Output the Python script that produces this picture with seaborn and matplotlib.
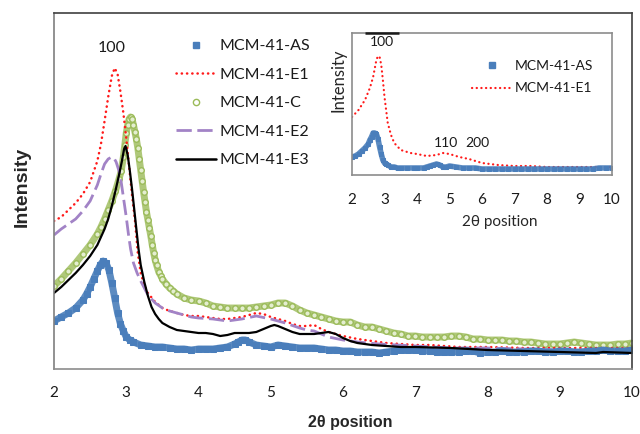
import matplotlib
matplotlib.use("Agg")
import matplotlib.pyplot as plt
from matplotlib.lines import Line2D
import pandas as pd
import seaborn as sns

# ---------------- main panel: XRD patterns ----------------
as_x = [2.0, 2.1, 2.2, 2.3, 2.4, 2.45, 2.5, 2.55, 2.6, 2.64, 2.68, 2.72, 2.76, 2.8,
        2.84, 2.88, 2.92, 2.96, 3.0, 3.05, 3.1, 3.2, 3.3, 3.4, 3.5, 3.6, 3.7, 3.8,
        3.9, 4.0, 4.1, 4.2, 4.3, 4.4, 4.5, 4.55, 4.6, 4.65, 4.7, 4.8, 4.9, 5.0, 5.1,
        5.2, 5.3, 5.4, 5.5, 5.6, 5.7, 5.8, 5.9, 6.0, 6.1, 6.2, 6.3, 6.4, 6.5, 6.6,
        6.7, 6.8, 6.9, 7.0, 7.1, 7.2, 7.3, 7.4, 7.5, 7.6, 7.7, 7.8, 7.9, 8.0, 8.1,
        8.2, 8.3, 8.4, 8.5, 8.6, 8.7, 8.8, 8.9, 9.0, 9.1, 9.2, 9.3, 9.4, 9.5, 9.6,
        9.7, 9.8, 9.9, 10.0]
as_y = [48, 52, 56, 61, 69, 75, 82, 90, 98, 104, 108, 106, 99, 86,
        71, 56, 45, 38, 32, 29, 27, 24, 23, 22, 22, 21, 20, 20,
        19, 20, 20, 20, 21, 22, 25, 27, 29, 29, 27, 24, 23, 22, 24,
        23, 22, 21, 21, 21, 20, 19, 19, 18, 18, 17, 17, 17, 16, 17,
        18, 19, 19, 19, 18, 18, 17, 17, 17, 17, 18, 18, 16, 17, 17,
        18, 17, 17, 17, 18, 18, 17, 17, 18, 18, 17, 17, 18, 18, 19,
        18, 18, 18, 19]

e1_x = [2.0, 2.1, 2.2, 2.3, 2.4, 2.5, 2.6, 2.65, 2.7, 2.75, 2.8, 2.84, 2.88, 2.92,
        2.96, 3.0, 3.04, 3.08, 3.12, 3.16, 3.2, 3.25, 3.3, 3.4, 3.5, 3.6, 3.7, 3.8,
        3.9, 4.0, 4.1, 4.2, 4.3, 4.4, 4.5, 4.6, 4.7, 4.8, 4.9, 5.0, 5.1, 5.2, 5.3,
        5.4, 5.5, 5.6, 5.7, 5.8, 5.9, 6.0, 6.2, 6.4, 6.6, 6.8, 7.0, 7.2, 7.4, 7.6,
        8.0, 8.5, 9.0, 9.5, 10.0]
e1_y = [148, 152, 159, 166, 175, 187, 208, 225, 248, 272, 293, 301, 295, 277,
        256, 231, 202, 174, 149, 116, 96, 84, 76, 67, 61, 58, 56, 54,
        53, 53, 52, 51, 50, 50, 51, 52, 54, 56, 55, 52, 50, 48, 45,
        43, 43, 44, 40, 37, 35, 33, 30, 28, 26, 25, 24, 24, 23, 22,
        22, 21, 21, 21, 21]

c_x = [2.0, 2.1, 2.2, 2.3, 2.4, 2.5, 2.6, 2.65, 2.7, 2.75, 2.8, 2.85, 2.9, 2.93,
       2.96, 2.98, 3.0, 3.02, 3.04, 3.06, 3.08, 3.1, 3.12, 3.14, 3.16, 3.18, 3.2,
       3.22, 3.24, 3.26, 3.28, 3.3, 3.32, 3.34, 3.36, 3.38, 3.4, 3.42, 3.45, 3.48,
       3.5, 3.55, 3.6, 3.65, 3.7, 3.8, 3.9, 4.0, 4.1, 4.2, 4.3, 4.4, 4.5, 4.6, 4.7,
       4.8, 4.9, 5.0, 5.1, 5.2, 5.3, 5.4, 5.5, 5.6, 5.7, 5.8, 5.9, 6.0, 6.1, 6.2,
       6.3, 6.4, 6.5, 6.6, 6.7, 6.8, 6.9, 7.0, 7.1, 7.2, 7.3, 7.4, 7.5, 7.6, 7.7,
       7.8, 7.9, 8.0, 8.1, 8.2, 8.3, 8.4, 8.5, 8.6, 8.7, 8.8, 8.9, 9.0, 9.1, 9.2,
       9.3, 9.4, 9.5, 9.6, 9.7, 9.8, 9.9, 10.0]
c_y = [83, 90, 98, 106, 115, 124, 135, 142, 150, 159, 168, 178, 190, 198,
       212, 224, 236, 244, 250, 252, 250, 244, 237, 230, 221, 210, 199,
       188, 177, 167, 157, 149, 141, 133, 124, 116, 109, 104, 97, 93,
       90, 85, 81, 78, 75, 71, 69, 68, 66, 63, 62, 61, 61, 61, 61,
       62, 63, 64, 66, 66, 63, 59, 56, 54, 52, 50, 48, 47, 47, 44,
       42, 42, 40, 38, 36, 35, 33, 33, 32, 32, 32, 32, 33, 33, 32,
       30, 30, 29, 29, 29, 28, 28, 27, 27, 26, 25, 25, 25, 26, 27,
       26, 25, 24, 24, 24, 25, 25, 26]

e2_x = [2.0, 2.1, 2.2, 2.3, 2.4, 2.5, 2.6, 2.65, 2.7, 2.75, 2.8, 2.83, 2.86, 2.9,
        2.93, 2.96, 3.0, 3.03, 3.06, 3.1, 3.15, 3.2, 3.3, 3.4, 3.5, 3.6, 3.7, 3.8,
        3.9, 4.0, 4.2, 4.4, 4.6, 4.8, 5.0, 5.2, 5.4, 5.5, 5.6, 5.7, 5.8, 6.0, 6.2,
        6.5, 7.0, 7.5, 8.0, 8.5, 9.0, 9.5, 10.0]
e2_y = [134, 140, 145, 150, 158, 168, 184, 195, 205, 210, 212, 211, 207, 198,
        187, 172, 152, 135, 120, 106, 96, 88, 74, 66, 61, 58, 56, 54,
        52, 51, 50, 48, 50, 53, 50, 46, 41, 39, 38, 35, 32, 29, 27,
        25, 23, 21, 21, 20, 19, 19, 18]

e3_x = [2.0, 2.1, 2.2, 2.3, 2.4, 2.5, 2.6, 2.7, 2.75, 2.8, 2.85, 2.9, 2.94, 2.97,
        2.99, 3.02, 3.05, 3.08, 3.11, 3.14, 3.17, 3.2, 3.25, 3.3, 3.35, 3.4, 3.45,
        3.5, 3.6, 3.7, 3.8, 3.9, 4.0, 4.1, 4.2, 4.3, 4.4, 4.5, 4.6, 4.7, 4.8, 4.9,
        5.0, 5.05, 5.1, 5.2, 5.3, 5.4, 5.5, 5.6, 5.7, 5.8, 5.9, 6.0, 6.1, 6.2, 6.4,
        6.6, 6.8, 7.0, 7.5, 8.0, 8.5, 9.0, 9.5, 9.6, 10.0]
e3_y = [76, 82, 89, 96, 104, 113, 124, 140, 150, 163, 178, 194, 208, 220,
        223, 214, 198, 180, 160, 140, 120, 104, 87, 73, 62, 55, 50,
        46, 42, 39, 38, 37, 36, 36, 35, 33, 34, 36, 36, 36, 37, 40,
        43, 44, 43, 40, 37, 35, 35, 35, 36, 37, 35, 31, 28, 26, 24,
        23, 22, 22, 21, 19, 18, 17, 16, 17, 16]

# ---------------- inset: AS vs E1 ----------------
in_as_x = [2.0, 2.1, 2.2, 2.3, 2.4, 2.5, 2.55, 2.6, 2.65, 2.7, 2.75, 2.8, 2.85, 2.9,
           2.95, 3.0, 3.05, 3.1, 3.2, 3.3, 3.4, 3.5, 3.7, 3.9, 4.0, 4.2, 4.3, 4.4,
           4.5, 4.6, 4.7, 4.8, 4.9, 5.0, 5.2, 5.4, 5.6, 5.8, 6.0, 6.2, 6.4, 6.6,
           6.8, 7.0, 7.2, 7.4, 7.6, 7.8, 8.0, 8.2, 8.4, 8.6, 8.8, 9.0, 9.2, 9.4,
           9.6, 9.8, 10.0]
in_as_y = [18, 19, 21, 24, 27, 31, 35, 38, 42, 42, 41, 36, 28, 21,
           15, 12, 11, 10, 8, 8, 7, 7, 7, 7, 7, 7, 8, 9,
           10, 11, 10, 8, 8, 9, 8, 7, 7, 7, 6, 6, 6, 6,
           6, 6, 6, 6, 6, 6, 6, 6, 6, 6, 6, 6, 6, 6,
           7, 7, 7]

in_e1_x = [2.0, 2.2, 2.4, 2.55, 2.65, 2.75, 2.8, 2.85, 2.9, 2.95, 3.0, 3.05, 3.1,
           3.2, 3.3, 3.5, 3.8, 4.0, 4.3, 4.6, 4.8, 5.0, 5.3, 5.6, 6.0, 6.5, 7.0,
           7.5, 8.0, 9.0, 10.0]
in_e1_y = [58, 65, 75, 87, 98, 115, 119, 118, 110, 95, 78, 65, 52,
           40, 32, 25, 22, 21, 19, 20, 22, 21, 18, 16, 12, 10, 9,
           9, 8, 8, 8]

series_names = ["MCM-41-AS", "MCM-41-E1", "MCM-41-C", "MCM-41-E2", "MCM-41-E3"]
x_ticks = [2, 3, 4, 5, 6, 7, 8, 9, 10]

BLUE = "#4a7ebb"
RED = "#ff1a1a"
GREEN = "#9bbb59"
PURPLE = "#a283c6"
BLACK = "#000000"
INK = "#1a1a1a"

sns.set_theme(style="white")
plt.rcParams["font.family"] = ["Lato", "DejaVu Sans"]
BOLD_FAMILY = ["Liberation Sans", "DejaVu Sans"]

fig = plt.figure(figsize=(6.4, 4.34), dpi=100)
fig.patch.set_facecolor("white")
W, H = 640, 434
ax = fig.add_axes([54 / W, 65 / H, 578 / W, 356 / H])


def frame(xs, ys):
    return pd.DataFrame({"x": xs, "y": ys})


def draw(axis, df, **kw):
    sns.lineplot(data=df, x="x", y="y", ax=axis, estimator=None, sort=False,
                 legend=False, **kw)
    return axis.lines[-1]


DOT = (0, (0.1, 2.0))
DASH = (0, (5.5, 2.0))

d_as, d_e1, d_c, d_e2, d_e3 = (frame(as_x, as_y), frame(e1_x, e1_y), frame(c_x, c_y),
                               frame(e2_x, e2_y), frame(e3_x, e3_y))

# calcined sample: dense open-circle band
draw(ax, d_c, color=GREEN, lw=5.0, alpha=0.8)
draw(ax, d_c, color=GREEN, lw=0, marker="o", ms=4.0, mfc="#e4eed0", mec=GREEN, mew=1.0)
ln = draw(ax, d_e1, color=RED, lw=1.8)
ln.set_linestyle(DOT)
ln.set_dash_capstyle("round")
ln = draw(ax, d_e2, color=PURPLE, lw=2.0)
ln.set_linestyle(DASH)
# as-synthesised sample: dense square band
draw(ax, d_as, color=BLUE, lw=5.0, alpha=0.9)
draw(ax, d_as, color=BLUE, lw=0, marker="s", ms=4.2, mec=BLUE)
draw(ax, d_e3, color=BLACK, lw=1.6)

ax.set_xlim(2, 10)
ax.set_ylim(0, 356)
ax.set_xticks(x_ticks)
ax.set_xticklabels([str(t) for t in x_ticks])
ax.set_yticks([])
ax.tick_params(axis="x", direction="out", length=4, width=1, color="#8c8c8c",
               pad=8, labelsize=11, labelcolor=INK)
for side, col in (("left", "#7f7f7f"), ("bottom", "#8c8c8c"),
                  ("top", "#404040"), ("right", "#404040")):
    ax.spines[side].set_visible(True)
    ax.spines[side].set_color(col)
    ax.spines[side].set_linewidth(1.2)
ax.set_xlabel("2θ position", fontsize=11.5, fontweight="bold", family=BOLD_FAMILY)
ax.xaxis.set_label_coords((350 - 54) / 578, (369 - 415) / 356)
ax.xaxis.label.set_va("top")
ax.set_ylabel("Intensity", fontsize=14, fontweight="bold", family=BOLD_FAMILY)
ax.yaxis.set_label_coords(-0.055, 0.511)
ax.yaxis.label.set_va("center")
ax.text(2.80, 321, "100", ha="center", va="center", fontsize=11.5, color=INK)

handles = [
    Line2D([], [], color=BLUE, marker="s", ms=4.5, lw=0),
    Line2D([], [], color=RED, lw=1.8, linestyle=DOT, dash_capstyle="round"),
    Line2D([], [], color=GREEN, marker="o", ms=4.5, mfc="white", mew=1.0, lw=0),
    Line2D([], [], color=PURPLE, lw=2.0, linestyle=DASH),
    Line2D([], [], color=BLACK, lw=1.8),
]
leg = ax.legend(handles, series_names, loc="upper left",
                bbox_to_anchor=((176 - 54) / 578, (369 - 39) / 356),
                frameon=False, fontsize=11.5, handlelength=2.5, handletextpad=0.2,
                labelspacing=0.9, borderpad=0, borderaxespad=0, numpoints=1)
for t in leg.get_texts():
    t.set_color(INK)

# ---------------- inset ----------------
axi = fig.add_axes([352 / W, (H - 175) / H, 260 / W, 142 / H])
axi.set_facecolor("white")
di_as, di_e1 = frame(in_as_x, in_as_y), frame(in_e1_x, in_e1_y)
ln = draw(axi, di_e1, color=RED, lw=1.6)
ln.set_linestyle(DOT)
ln.set_dash_capstyle("round")
draw(axi, di_as, color=BLUE, lw=4.0, alpha=0.9)
draw(axi, di_as, color=BLUE, lw=0, marker="s", ms=3.5, mec=BLUE)
axi.set_xlim(2, 10)
axi.set_ylim(0, 142)
axi.set_xticks(x_ticks)
axi.set_xticklabels([str(t) for t in x_ticks])
axi.set_yticks([])
axi.tick_params(axis="x", direction="out", length=3, width=1, color="#8c8c8c",
                pad=10, labelsize=11, labelcolor=INK)
for side in ("left", "bottom", "top", "right"):
    axi.spines[side].set_visible(True)
    axi.spines[side].set_color("#8c8c8c")
    axi.spines[side].set_linewidth(1.2)
axi.plot([(365 - 352) / 260, (399 - 352) / 260], [1, 1], transform=axi.transAxes,
         color=INK, lw=1.8, clip_on=False, solid_capstyle="butt", zorder=5)
axi.set_xlabel("2θ position", fontsize=11)
axi.xaxis.set_label_coords((500 - 352) / 260, (175 - 222) / 142)
axi.xaxis.label.set_va("center")
axi.set_ylabel("Intensity", fontsize=12)
axi.yaxis.set_label_coords(-0.05, 0.669)
axi.yaxis.label.set_va("center")
axi.text(2.92, 133, "100", ha="center", va="center", fontsize=10, color=INK)
axi.text(4.89, 32, "110", ha="center", va="center", fontsize=10, color=INK)
axi.text(5.85, 32, "200", ha="center", va="center", fontsize=10, color=INK)
in_handles = [
    Line2D([], [], color=BLUE, marker="s", ms=4, lw=0),
    Line2D([], [], color=RED, lw=1.6, linestyle=DOT, dash_capstyle="round"),
]
ileg = axi.legend(in_handles, series_names[:2], loc="upper left",
                  bbox_to_anchor=((472 - 352) / 260, (175 - 60) / 142),
                  frameon=False, fontsize=10, handlelength=2.9, handletextpad=0.2,
                  labelspacing=0.75, borderpad=0, borderaxespad=0, numpoints=1)
for t in ileg.get_texts():
    t.set_color(INK)

fig.savefig("out.png", dpi=100, facecolor="white")
